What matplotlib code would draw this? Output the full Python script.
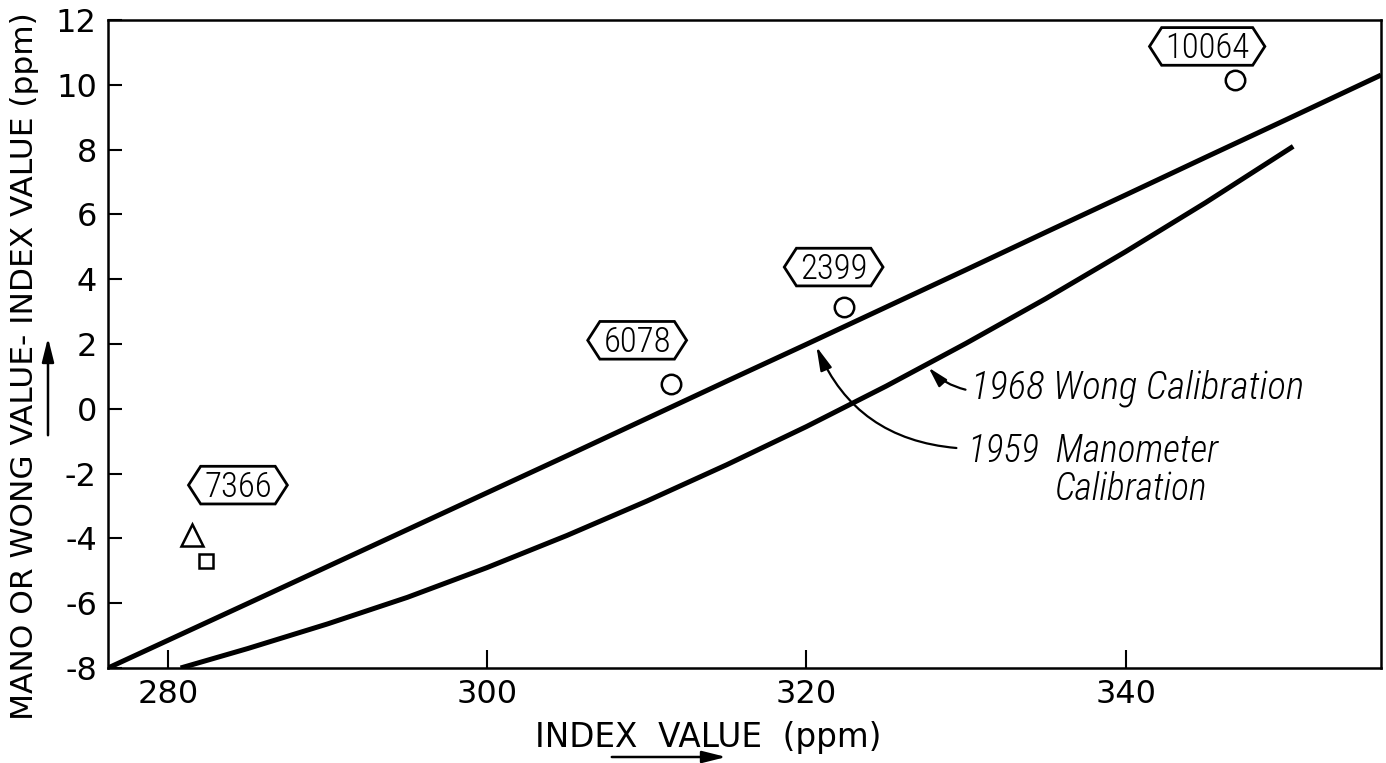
import matplotlib
matplotlib.use('Agg')
import matplotlib.pyplot as plt
from matplotlib.path import Path
from matplotlib import font_manager

plt.rcParams['axes.unicode_minus'] = False

# ---------------- data ----------------
manometer_x = [276.25, 285, 290, 295, 300, 305, 310, 315, 320, 325, 330, 335, 340, 345, 350, 356]
manometer_y = [-8.0, -6.01, -4.87, -3.73, -2.59, -1.45, -0.30, 0.85, 1.99, 3.14, 4.29, 5.45,
               6.60, 7.76, 8.91, 10.3]
wong_x = [280.8, 285, 290, 295, 300, 305, 310, 315, 320, 325, 330, 335, 340, 345, 350.5]
wong_y = [-8.0, -7.40, -6.64, -5.82, -4.9, -3.91, -2.85, -1.73, -0.55, 0.70, 2.02, 3.40,
          4.85, 6.36, 8.1]

circle_x = [311.55, 322.36, 346.88]
circle_y = [0.77, 3.14, 10.15]
triangle_x = [281.51]
triangle_y = [-3.89]
square_x = [282.37]
square_y = [-4.69]

sample_labels = ['7366', '6078', '2399', '10064']
label_x = [284.39, 309.4, 321.71, 345.11]
label_y = [-2.42, 2.05, 4.31, 11.12]

x_ticks = [280, 300, 320, 340]
y_ticks = [-8, -6, -4, -2, 0, 2, 4, 6, 8, 10, 12]

# ---------------- fonts ----------------
available = {f.name for f in font_manager.fontManager.ttflist}
def pick(cands):
    for c in cands:
        if c in available:
            return c
    return 'DejaVu Sans'
narrow = pick(['Roboto Condensed', 'Liberation Sans Narrow', 'DejaVu Sans'])
base = 'DejaVu Sans'

# ---------------- figure ----------------
fig = plt.figure(figsize=(13.86, 7.63), dpi=100)
ax = fig.add_axes([108/1386, 95/763, (1381-108)/1386, (668-20)/763])

ax.plot(manometer_x, manometer_y, color='black', lw=3.6, solid_capstyle='butt')
ax.plot(wong_x, wong_y, color='black', lw=3.6, solid_capstyle='butt')

ax.plot(circle_x, circle_y, 'o', ms=14, mfc='white', mec='black', mew=1.8)
ax.plot(triangle_x, triangle_y, '^', ms=16, mfc='white', mec='black', mew=1.8)
ax.plot(square_x, square_y, 's', ms=10, mfc='white', mec='black', mew=1.8)


def hexagon(x0, y0, width, height, mutation_size):
    padx = 0.10 * mutation_size
    d = 0.35 * mutation_size
    top_pad = 0.12 * mutation_size
    bot_pad = 0.0
    xa = x0 - padx
    xb = x0 + width + padx
    ya = y0 - bot_pad
    yb = y0 + height + top_pad
    ym = 0.5 * (ya + yb)
    verts = [(xa - d, ym), (xa, yb), (xb, yb), (xb + d, ym), (xb, ya), (xa, ya), (xa - d, ym)]
    codes = [Path.MOVETO] + [Path.LINETO] * 5 + [Path.CLOSEPOLY]
    return Path(verts, codes)


for lab, lx, ly in zip(sample_labels, label_x, label_y):
    ax.text(lx, ly, lab, ha='center', va='center', fontsize=25, family=narrow,
            fontweight='light',
            bbox=dict(boxstyle=hexagon, fc='white', ec='black', lw=2.0))

# annotations
note_font = dict(family=narrow, style='italic', fontweight='light')
ax.text(330.3, 0.62, '1968 Wong Calibration', ha='left', va='center', fontsize=28, **note_font)
ax.text(330.1, -1.31, '1959  Manometer', ha='left', va='center', fontsize=27, **note_font)
ax.text(335.6, -2.5, 'Calibration', ha='left', va='center', fontsize=27, **note_font)

ax.annotate('', xy=(327.66, 1.27), xytext=(329.97, 0.59),
            arrowprops=dict(arrowstyle='-|>,head_length=0.8,head_width=0.22',
                            connectionstyle='arc3,rad=-0.15', lw=1.6, color='black',
                            shrinkA=0, shrinkB=0, mutation_scale=15))
ax.annotate('', xy=(320.63, 1.92), xytext=(329.4, -1.21),
            arrowprops=dict(arrowstyle='-|>,head_length=0.8,head_width=0.2',
                            connectionstyle='arc3,rad=-0.3', lw=1.6, color='black',
                            shrinkA=0, shrinkB=0, mutation_scale=18))

# axes styling
ax.set_xlim(276.25, 356.0)
ax.set_ylim(-8, 12)
ax.set_xticks(x_ticks)
ax.set_yticks(y_ticks)
ax.set_xticklabels([str(v) for v in x_ticks])
ax.set_yticklabels([str(v) for v in y_ticks])
for s in ax.spines.values():
    s.set_linewidth(1.8)
ax.tick_params(axis='x', direction='in', length=13, width=1.5, pad=8, labelsize=23)
ax.tick_params(axis='y', direction='in', length=10, width=1.5, pad=8, labelsize=23)
for t in ax.get_xticklabels() + ax.get_yticklabels():
    t.set_family(base)

# axis labels (figure-level) with arrows
fig.text(25/1386, (763-366)/763, 'MANO OR WONG VALUE- INDEX VALUE (ppm)', rotation=90,
         ha='center', va='center', fontsize=22.5, family=base)
fig.text(708/1386, (763-738)/763, 'INDEX  VALUE  (ppm)', ha='center', va='center',
         fontsize=23.5, family=base)

fig.patches.append(matplotlib.patches.FancyArrowPatch(
    (48, 763-438), (48, 763-335), transform=None,
    arrowstyle='-|>,head_length=0.8,head_width=0.2', mutation_scale=18, lw=1.8, color='black'))
fig.patches.append(matplotlib.patches.FancyArrowPatch(
    (609, 6), (729, 6), transform=None,
    arrowstyle='-|>,head_length=0.8,head_width=0.2', mutation_scale=18, lw=1.8, color='black'))

fig.savefig('out.png', dpi=100)
